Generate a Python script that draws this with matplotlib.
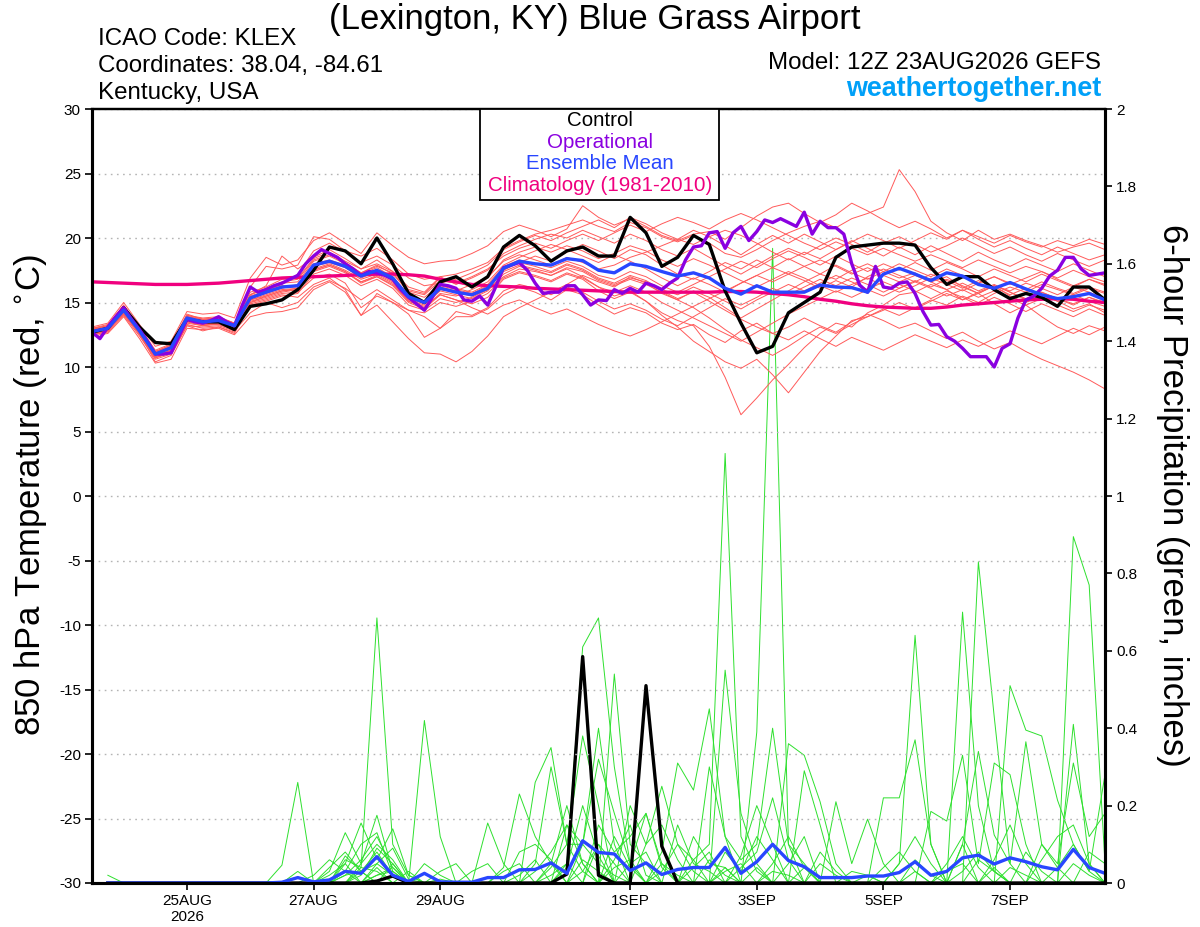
import numpy as np
import pandas as pd
import matplotlib
matplotlib.use('Agg')
import matplotlib.pyplot as plt
from matplotlib.patches import Rectangle
from matplotlib.ticker import FormatStrFormatter

plt.rcParams['font.family'] = ['Liberation Sans', 'DejaVu Sans']
plt.rcParams['axes.unicode_minus'] = False

# --- time axes (6-hourly ensemble, 3-hourly operational run) ---
times = pd.date_range('2026-08-23 12:00', '2026-09-08 12:00', freq='6h')
times_op = pd.date_range('2026-08-23 12:00', '2026-09-08 12:00', freq='3h')
times_pr = times[1:]

tick_dates = pd.to_datetime(['2026-08-25', '2026-08-27', '2026-08-29', '2026-09-01',
                             '2026-09-03', '2026-09-05', '2026-09-07'])
tick_labels = ['25AUG\n2026', '27AUG', '29AUG', '1SEP', '3SEP', '5SEP', '7SEP']

# --- 850 hPa temperature (deg C) ---
control_temp = [12.7, 13.0, 14.6, 13.1, 11.9, 11.8, 13.7, 13.5, 13.5, 12.9,
                14.7, 14.9, 15.2, 16.0, 17.5, 19.3, 19.0, 18.0, 20.0, 18.0,
                15.7, 15.0, 16.6, 17.0, 16.2, 17.0, 19.3, 20.2, 19.4, 18.2,
                19.0, 19.3, 18.6, 18.6, 21.6, 20.4, 17.8, 18.5, 20.2, 19.5,
                15.9, 13.4, 11.1, 11.6, 14.2, 15.0, 15.8, 18.5, 19.3, 19.45,
                19.6, 19.6, 19.45, 17.7, 16.4, 17.0, 17.0, 16.0, 15.3, 15.7,
                15.4, 14.7, 16.2, 16.2, 15.2]

mean_temp = [12.75, 13.0, 14.4, 12.8, 11.0, 11.5, 13.8, 13.5, 13.6, 13.2,
             15.35, 15.8, 16.2, 16.3, 17.9, 18.2, 17.8, 17.05, 17.5, 16.9,
             15.45, 15.0, 16.1, 15.8, 15.6, 16.1, 17.65, 18.2, 18.0, 17.9,
             18.4, 18.25, 17.5, 17.3, 18.0, 17.8, 17.4, 17.05, 17.3, 16.9,
             16.1, 15.65, 16.3, 15.8, 15.8, 15.8, 16.35, 16.2, 16.15, 15.8,
             17.2, 17.65, 17.2, 16.7, 17.3, 17.05, 16.4, 16.1, 16.55, 16.05,
             15.6, 15.3, 15.45, 15.7, 15.2]

clim_temp = [16.6, 16.55, 16.5, 16.45, 16.4, 16.4, 16.4, 16.45, 16.5, 16.6,
             16.7, 16.8, 16.9, 16.95, 17.0, 17.05, 17.1, 17.15, 17.2, 17.2,
             17.15, 17.05, 16.8, 16.6, 16.4, 16.3, 16.25, 16.2, 16.1, 16.05,
             16.0, 15.95, 15.9, 15.85, 15.8, 15.8, 15.8, 15.8, 15.8, 15.8,
             15.85, 15.85, 15.8, 15.7, 15.6, 15.45, 15.25, 15.1, 14.9, 14.75,
             14.65, 14.6, 14.55, 14.55, 14.65, 14.8, 14.9, 15.0, 15.1, 15.2,
             15.25, 15.3, 15.25, 15.1, 15.0]

oper_temp = [12.7, 12.2, 13.1, 13.9, 14.6, 13.7, 12.9, 12.0, 11.0, 11.0,
             11.1, 12.4, 13.7, 13.5, 13.4, 13.6, 13.9, 13.5, 13.2, 14.8,
             16.2, 15.8, 16.0, 16.3, 16.5, 16.8, 17.1, 18.0, 18.6, 19.1,
             18.8, 18.5, 18.0, 17.6, 17.1, 17.4, 17.3, 17.1, 16.8, 16.0,
             15.4, 14.9, 14.4, 15.4, 16.4, 16.3, 16.1, 15.2, 15.1, 15.5,
             14.8, 16.2, 17.7, 17.9, 18.1, 17.5, 16.5, 15.7, 15.8, 15.8,
             16.3, 16.3, 15.6, 14.8, 15.2, 15.15, 16.0, 15.7, 16.1, 15.8,
             16.5, 16.3, 16.0, 16.5, 16.9, 18.3, 19.3, 19.4, 20.4, 20.5,
             19.2, 20.4, 20.9, 19.8, 20.5, 21.4, 21.2, 21.5, 21.2, 20.9,
             22.0, 20.3, 21.3, 20.8, 20.8, 20.3, 18.0, 16.35, 15.8, 17.8,
             16.2, 16.1, 16.5, 16.6, 15.7, 14.3, 13.25, 13.3, 12.35, 12.0,
             11.45, 10.8, 10.8, 10.8, 10.0, 11.45, 11.8, 13.8, 15.2, 15.5,
             16.1, 17.05, 17.5, 18.5, 18.5, 17.6, 17.1, 17.2, 17.3]

temp_m01 = [12.9, 13.2, 14.8, 13.0, 11.2, 11.6, 14.0, 13.8, 13.9, 13.4, 15.8, 16.2, 16.8,
            16.9, 18.4, 18.9, 18.2, 17.6, 18.3, 17.4, 16.2, 15.8, 17.0, 17.2, 17.6, 18.1,
            19.2, 19.8, 20.3, 20.6, 21.0, 21.4, 20.9, 20.5, 21.2, 20.8, 20.1, 19.7, 20.2,
            19.6, 18.8, 18.5, 19.1, 19.8, 20.4, 20.9, 21.3, 20.8, 21.5, 21.9, 22.4, 25.3,
            23.6, 21.3, 20.4, 19.8, 20.6, 19.9, 20.3, 19.8, 19.4, 18.9, 19.3, 19.6, 19.1]
temp_m02 = [12.6, 12.8, 14.2, 12.5, 10.7, 11.2, 13.5, 13.2, 13.4, 12.9, 15.0, 15.5, 15.9,
            16.0, 17.5, 17.9, 17.4, 16.5, 17.0, 16.3, 15.0, 14.5, 15.6, 15.2, 14.9, 15.4,
            16.8, 17.3, 17.0, 16.6, 17.2, 16.8, 15.9, 15.3, 15.8, 15.1, 14.2, 13.6, 13.2,
            11.6, 9.2, 6.3, 7.6, 9.0, 10.2, 11.5, 12.6, 13.4, 13.1, 14.2, 14.8, 15.6,
            15.8, 16.4, 16.0, 15.2, 15.7, 14.9, 14.2, 14.8, 13.9, 13.1, 12.6, 13.2, 12.8]
temp_m03 = [12.4, 12.6, 13.9, 12.2, 10.3, 10.6, 13.0, 12.9, 13.0, 12.5, 13.9, 14.2, 14.3,
            14.6, 16.0, 16.6, 15.8, 14.0, 15.7, 15.0, 14.1, 12.3, 13.0, 13.9, 13.9, 14.5,
            15.6, 16.2, 15.8, 15.2, 16.0, 15.6, 14.8, 14.1, 14.6, 14.2, 13.4, 12.9, 13.3,
            12.5, 11.9, 12.8, 13.4, 12.6, 13.1, 13.8, 13.2, 12.7, 13.5, 14.1, 13.6, 13.0,
            13.4, 12.8, 12.2, 12.7, 12.0, 11.4, 11.9, 11.2, 10.6, 10.1, 9.6, 9.0, 8.3]
temp_m04 = [12.7, 12.9, 14.1, 12.6, 10.8, 11.1, 13.3, 13.0, 13.1, 12.6, 14.9, 15.2, 15.6,
            15.4, 16.4, 16.9, 16.0, 14.0, 14.8, 13.5, 12.2, 11.1, 11.0, 10.4, 11.2, 12.4,
            13.9, 14.6, 15.2, 15.8, 16.4, 17.1, 16.6, 16.2, 17.0, 16.5, 15.7, 15.2, 15.9,
            15.4, 14.6, 13.8, 14.5, 15.2, 15.9, 16.6, 17.2, 16.8, 17.5, 18.0, 17.4, 16.9,
            17.3, 16.6, 17.0, 16.2, 15.7, 16.3, 15.5, 15.0, 15.6, 15.1, 14.5, 14.9, 14.2]
temp_m05 = [13.1, 13.4, 15.0, 13.3, 11.6, 12.0, 14.3, 14.1, 14.2, 13.8, 16.9, 18.5, 17.9,
            18.3, 19.8, 20.4, 19.6, 18.8, 20.4, 19.4, 18.5, 18.0, 18.2, 18.3, 18.8, 19.4,
            20.5, 21.0, 20.6, 20.1, 20.7, 22.5, 21.6, 21.0, 21.5, 20.9, 20.2, 19.8, 20.3,
            20.5, 19.9, 20.8, 21.7, 22.4, 22.7, 21.9, 21.2, 21.8, 22.7, 22.1, 21.4, 20.8,
            21.3, 20.7, 20.0, 20.6, 19.9, 19.3, 19.8, 19.2, 18.7, 19.3, 18.8, 18.3, 18.7]
temp_m06 = [12.5, 12.7, 14.0, 12.4, 10.6, 11.0, 13.2, 12.8, 13.1, 12.7, 14.8, 15.1, 15.5,
            15.7, 17.2, 17.6, 17.1, 16.3, 16.8, 16.1, 14.8, 14.4, 15.3, 15.0, 15.4, 16.0,
            17.0, 17.6, 17.4, 17.1, 17.7, 17.4, 16.7, 16.3, 16.8, 16.4, 15.8, 15.2, 14.6,
            13.8, 12.9, 12.1, 11.5, 10.9, 11.6, 12.4, 13.1, 12.6, 13.3, 13.9, 14.5, 14.0,
            14.6, 15.2, 14.8, 15.5, 15.0, 15.7, 16.2, 15.8, 16.4, 16.0, 15.6, 16.1, 15.7]
temp_m07 = [13.0, 13.3, 14.7, 13.1, 11.3, 11.8, 14.1, 13.7, 13.8, 13.3, 16.2, 17.8, 17.6,
            17.9, 20.1, 19.9, 19.0, 18.6, 19.2, 18.3, 17.2, 16.8, 17.0, 16.4, 16.9, 17.5,
            18.8, 19.4, 19.9, 20.3, 20.0, 20.6, 20.1, 19.6, 20.3, 19.8, 19.1, 18.6, 19.2,
            18.5, 17.8, 17.2, 17.9, 18.6, 19.2, 18.7, 19.4, 20.0, 19.5, 18.9, 19.6, 20.1,
            19.5, 18.9, 19.4, 20.0, 19.4, 18.8, 19.3, 18.7, 18.2, 18.8, 18.3, 17.8, 18.3]
temp_m08 = [12.8, 13.0, 14.3, 12.7, 10.9, 11.3, 13.6, 13.4, 13.5, 13.1, 15.2, 15.6, 16.0,
            16.1, 17.6, 18.0, 17.5, 16.8, 17.2, 16.6, 15.2, 14.8, 15.9, 15.6, 15.3, 15.9,
            17.2, 17.8, 17.5, 17.1, 17.6, 17.0, 16.2, 15.5, 15.9, 15.1, 14.0, 13.1, 12.0,
            11.2, 10.4, 9.9, 10.6, 9.4, 8.0, 9.6, 11.2, 12.4, 13.6, 13.9, 14.4, 15.0,
            14.5, 15.1, 15.7, 15.2, 15.8, 16.3, 15.9, 16.5, 16.1, 15.6, 16.2, 15.8, 15.3]
temp_m09 = [12.6, 12.9, 14.5, 12.9, 11.1, 11.4, 13.7, 13.3, 13.4, 13.0, 15.3, 15.7, 16.1,
            16.4, 18.0, 18.3, 17.9, 17.2, 17.7, 17.0, 15.6, 15.1, 16.3, 16.0, 15.7, 16.3,
            17.5, 18.1, 18.6, 18.2, 18.9, 19.5, 19.0, 18.4, 19.1, 18.7, 17.9, 17.2, 16.8,
            17.4, 18.1, 17.6, 18.3, 17.7, 18.4, 17.8, 17.2, 17.9, 17.3, 16.8, 17.4, 18.0,
            17.5, 17.0, 17.6, 17.1, 16.5, 17.0, 16.4, 16.9, 17.4, 16.8, 16.3, 16.8, 16.4]
temp_m10 = [12.9, 13.1, 14.6, 12.8, 11.0, 11.6, 13.9, 13.6, 13.7, 13.2, 15.5, 15.9, 16.4,
            17.2, 19.0, 19.6, 18.9, 18.1, 18.6, 17.9, 16.9, 16.3, 16.5, 16.8, 17.3, 17.9,
            19.1, 19.7, 20.2, 19.8, 20.4, 20.9, 21.4, 20.8, 21.6, 21.1, 20.4, 19.9, 20.6,
            20.1, 19.4, 18.7, 19.5, 20.2, 19.6, 20.3, 19.7, 19.1, 19.8, 19.2, 18.6, 19.3,
            18.7, 19.4, 18.8, 18.2, 18.9, 18.3, 17.8, 18.4, 17.9, 17.4, 18.0, 17.5, 17.0]
temp_m11 = [12.7, 13.0, 14.4, 12.9, 11.0, 11.4, 13.8, 13.5, 13.6, 13.1, 15.4, 15.8, 16.2,
            16.2, 17.8, 18.1, 17.7, 16.9, 17.4, 16.7, 15.3, 14.9, 16.0, 15.8, 15.5, 16.0,
            17.4, 17.9, 17.6, 17.3, 17.9, 17.5, 16.8, 16.4, 16.9, 16.6, 15.9, 15.3, 15.8,
            15.1, 14.4, 13.7, 13.1, 12.6, 12.1, 12.8, 12.2, 11.6, 12.3, 11.8, 11.3, 11.9,
            12.5, 12.0, 11.5, 12.1, 11.6, 12.2, 12.8, 12.3, 11.8, 12.4, 13.0, 12.5, 13.1]
temp_m12 = [12.8, 13.1, 14.5, 12.9, 11.1, 11.5, 13.8, 13.6, 13.7, 13.3, 15.4, 15.9, 16.3,
            16.3, 17.8, 18.2, 17.8, 17.0, 17.5, 16.9, 15.4, 15.0, 16.1, 15.9, 16.4, 17.0,
            18.2, 18.7, 18.3, 17.9, 18.5, 18.1, 17.6, 17.9, 18.5, 18.9, 19.4, 19.9, 19.5,
            20.1, 20.6, 20.2, 19.6, 18.9, 18.3, 18.9, 18.4, 19.1, 19.7, 20.3, 19.8, 19.2,
            19.8, 20.4, 19.9, 20.6, 20.1, 19.6, 20.2, 19.7, 19.3, 19.8, 19.4, 19.9, 19.5]
temp_m13 = [12.5, 12.8, 14.1, 12.6, 10.4, 10.9, 13.2, 13.1, 13.2, 12.8, 14.2, 15.0, 14.6,
            15.0, 16.2, 16.7, 16.1, 15.2, 16.0, 15.2, 14.4, 13.9, 13.0, 14.3, 14.0, 14.6,
            15.9, 16.4, 16.1, 15.6, 16.2, 15.8, 15.1, 14.5, 14.9, 14.4, 13.7, 13.2, 13.9,
            14.6, 15.3, 14.8, 15.4, 16.1, 15.6, 16.2, 16.8, 16.3, 16.9, 16.4, 15.8, 16.4,
            15.9, 15.3, 15.9, 15.4, 14.8, 15.4, 14.9, 14.3, 14.9, 14.4, 13.9, 14.5, 14.0]
temp_m14 = [12.6, 12.9, 14.2, 12.6, 10.8, 11.2, 13.5, 13.3, 13.3, 12.9, 15.1, 15.4, 15.8,
            16.0, 17.4, 17.8, 17.3, 16.6, 17.0, 16.4, 15.1, 14.6, 15.7, 15.5, 16.0, 16.6,
            17.9, 18.5, 19.0, 19.5, 19.1, 18.6, 18.1, 18.7, 18.2, 17.6, 16.9, 16.3, 16.9,
            16.4, 15.8, 16.5, 17.1, 16.6, 17.2, 16.7, 16.1, 16.7, 16.2, 17.0, 17.6, 17.1,
            16.6, 17.2, 16.7, 16.1, 16.7, 16.2, 15.6, 16.1, 15.6, 15.1, 15.6, 15.1, 14.7]
temp_m15 = [13.0, 13.2, 14.6, 13.0, 11.2, 11.7, 13.9, 13.7, 13.8, 13.4, 15.6, 16.1, 16.6,
            16.8, 18.3, 18.7, 18.1, 17.3, 17.8, 17.3, 15.8, 15.4, 16.4, 16.1, 15.8, 16.4,
            17.8, 18.3, 18.0, 17.7, 18.2, 17.8, 17.1, 16.8, 17.4, 17.0, 16.3, 15.8, 16.4,
            17.0, 17.6, 18.2, 17.7, 18.4, 19.0, 18.5, 17.9, 18.6, 18.0, 17.4, 18.0, 17.5,
            18.1, 17.5, 18.1, 17.6, 17.0, 17.6, 17.1, 16.6, 17.2, 16.7, 16.2, 16.8, 16.3]
temp_m16 = [12.7, 12.9, 14.3, 12.7, 10.9, 11.3, 13.6, 13.3, 13.5, 13.0, 15.2, 15.5, 15.9,
            16.1, 17.5, 17.9, 17.4, 16.6, 17.1, 16.5, 15.1, 14.7, 15.6, 15.2, 14.6, 14.1,
            14.8, 15.2, 14.6, 14.1, 14.5, 13.9, 13.3, 12.8, 12.4, 12.9, 13.5, 14.1, 14.7,
            15.3, 15.9, 16.5, 17.1, 17.7, 17.2, 17.8, 18.3, 17.8, 17.2, 17.7, 17.1, 16.6,
            17.1, 16.6, 16.0, 16.5, 15.9, 16.4, 15.8, 15.3, 15.8, 15.3, 14.9, 15.4, 15.0]
temp_m17 = [12.8, 13.1, 14.6, 12.9, 11.1, 11.6, 13.9, 13.6, 13.7, 13.3, 15.6, 16.3, 18.6,
            17.6, 18.5, 19.1, 18.4, 17.6, 18.0, 17.4, 16.0, 15.7, 16.9, 16.6, 16.2, 16.9,
            18.3, 18.9, 19.3, 18.9, 19.4, 19.0, 18.4, 18.8, 19.4, 19.0, 18.3, 17.8, 18.4,
            17.9, 17.3, 16.7, 16.2, 16.8, 17.4, 16.9, 16.3, 15.8, 16.4, 16.9, 16.3, 15.8,
            16.3, 16.9, 16.4, 15.9, 16.5, 17.0, 16.5, 16.0, 16.6, 16.1, 15.7, 16.2, 15.8]
temp_m18 = [12.6, 12.8, 14.2, 12.6, 10.7, 11.1, 13.4, 13.2, 13.3, 12.9, 15.0, 15.3, 15.7,
            15.8, 16.9, 17.2, 16.5, 14.6, 15.5, 15.0, 14.4, 14.2, 15.0, 14.7, 15.1, 15.7,
            16.9, 17.4, 17.1, 16.7, 17.3, 16.9, 16.2, 15.8, 16.3, 15.8, 15.0, 14.4, 13.8,
            13.2, 12.6, 12.0, 12.7, 13.4, 14.1, 14.7, 15.3, 15.9, 15.4, 16.0, 15.5, 16.1,
            16.7, 16.2, 16.8, 16.3, 15.7, 16.3, 15.8, 15.2, 15.8, 15.3, 14.8, 15.4, 14.9]
temp_m19 = [12.9, 13.2, 14.7, 13.1, 11.2, 11.7, 14.0, 13.7, 13.8, 13.4, 15.6, 16.1, 16.5,
            16.6, 18.2, 18.6, 18.0, 17.3, 17.9, 17.2, 15.9, 15.6, 16.7, 16.5, 17.0, 17.6,
            18.6, 19.2, 19.6, 19.2, 19.8, 20.3, 19.8, 20.4, 21.0, 20.5, 21.1, 21.6, 21.2,
            20.7, 21.4, 21.9, 21.4, 20.8, 20.2, 19.6, 19.1, 19.7, 19.2, 18.7, 19.2, 18.7,
            18.2, 18.7, 18.2, 17.7, 18.3, 17.8, 17.3, 17.8, 17.4, 16.9, 17.5, 17.0, 16.6]
temp_m20 = [12.7, 13.0, 14.4, 12.8, 11.0, 11.5, 13.7, 13.5, 13.6, 13.2, 15.3, 15.8, 16.2,
            16.3, 17.9, 18.2, 17.8, 17.0, 17.5, 16.9, 15.5, 15.0, 16.2, 15.9, 15.6, 16.2,
            17.6, 18.1, 17.8, 17.4, 18.0, 17.6, 16.9, 16.5, 17.1, 16.7, 16.0, 15.6, 16.2,
            15.7, 15.1, 14.5, 15.2, 15.8, 16.4, 15.9, 16.5, 17.1, 16.6, 16.0, 16.6, 16.1,
            16.6, 16.1, 15.5, 16.0, 15.4, 15.9, 15.3, 14.8, 15.3, 14.8, 14.3, 14.8, 14.4]

# --- 6-hour precipitation (inches), valid at the end of each 6h period ---
control_precip = [0, 0, 0, 0, 0, 0, 0, 0,
                  0, 0, 0, 0, 0, 0, 0, 0,
                  0, 0.005, 0.018, 0, 0, 0, 0, 0,
                  0, 0, 0, 0, 0, 0.023, 0.585, 0.02,
                  0, 0, 0.51, 0.095, 0, 0, 0, 0,
                  0, 0, 0, 0, 0, 0, 0, 0,
                  0, 0, 0, 0, 0, 0, 0, 0,
                  0, 0, 0, 0, 0, 0, 0, 0]
mean_precip = [0, 0, 0, 0, 0, 0, 0, 0,
               0, 0, 0, 0.002, 0.014, 0.003, 0.008, 0.03,
               0.025, 0.068, 0.02, 0.004, 0.025, 0.003, 0.002, 0.002,
               0.014, 0.014, 0.034, 0.035, 0.052, 0.025, 0.109, 0.079,
               0.075, 0.032, 0.052, 0.022, 0.035, 0.04, 0.04, 0.092,
               0.025, 0.055, 0.10, 0.058, 0.042, 0.014, 0.014, 0.014,
               0.018, 0.018, 0.027, 0.055, 0.02, 0.03, 0.065, 0.072,
               0.049, 0.065, 0.055, 0.042, 0.034, 0.087, 0.04, 0.025]

precip_m01 = [0.02, 0, 0, 0, 0, 0, 0, 0,
              0, 0, 0, 0, 0.03, 0, 0, 0.06,
              0.04, 0.685, 0.10, 0.02, 0, 0, 0, 0,
              0, 0, 0, 0, 0, 0.05, 0.61, 0.685,
              0.3, 0.05, 0, 0, 0, 0, 0, 0.04,
              0, 0.39, 1.64, 0.1, 0.05, 0, 0, 0,
              0, 0, 0, 0.03, 0, 0, 0.1, 0,
              0, 0, 0, 0, 0, 0.895, 0.77, 0.05]
precip_m02 = [0, 0, 0, 0, 0, 0, 0, 0,
              0, 0, 0, 0.046, 0.26, 0, 0, 0,
              0.02, 0.09, 0.05, 0, 0, 0, 0, 0,
              0, 0, 0, 0.05, 0.3, 0.1, 0.1, 0.4,
              0.1, 0, 0, 0, 0, 0.06, 0.1, 1.11,
              0.12, 0.03, 0, 0, 0, 0, 0, 0,
              0, 0, 0.05, 0.64, 0.1, 0, 0, 0.06,
              0.03, 0, 0, 0, 0, 0, 0, 0]
precip_m03 = [0, 0, 0, 0, 0, 0, 0, 0,
              0, 0, 0, 0, 0, 0, 0.03, 0.13,
              0.05, 0.175, 0.03, 0, 0.42, 0.12, 0, 0,
              0, 0.04, 0.23, 0.12, 0.05, 0, 0, 0,
              0.54, 0.1, 0.05, 0, 0, 0, 0, 0.55,
              0.18, 0.05, 0, 0, 0, 0, 0, 0,
              0, 0, 0, 0, 0, 0, 0.70, 0.2,
              0.03, 0, 0, 0, 0, 0, 0, 0]
precip_m04 = [0, 0, 0, 0, 0, 0, 0, 0,
              0, 0, 0, 0, 0, 0, 0, 0.05,
              0.155, 0.06, 0.14, 0.02, 0, 0, 0, 0,
              0.155, 0.05, 0, 0.26, 0.35, 0.1, 0.38, 0.2,
              0, 0, 0, 0.08, 0.31, 0.24, 0.45, 0.12,
              0, 0, 0, 0.36, 0.33, 0.21, 0.05, 0,
              0, 0, 0, 0, 0, 0, 0, 0.83,
              0.43, 0.05, 0, 0, 0, 0, 0, 0]
precip_m05 = [0, 0, 0, 0, 0, 0, 0, 0,
              0, 0, 0, 0, 0, 0.02, 0.06, 0.03,
              0.1, 0.13, 0.02, 0, 0, 0.03, 0.05, 0,
              0, 0, 0.08, 0.1, 0.06, 0, 0.1, 0.32,
              0.18, 0.05, 0.18, 0.04, 0, 0, 0.30, 0.12,
              0.06, 0.1, 0.40, 0.1, 0, 0, 0, 0,
              0, 0.22, 0.22, 0.37, 0.1, 0, 0, 0,
              0, 0.51, 0.395, 0.38, 0.214, 0.1, 0.03, 0.28]
precip_m06 = [0, 0, 0, 0, 0, 0, 0, 0,
              0, 0, 0, 0, 0, 0, 0.04, 0.08,
              0.03, 0.05, 0.09, 0.01, 0, 0, 0, 0,
              0, 0, 0, 0, 0.05, 0.2, 0.05, 0,
              0, 0.2, 0.1, 0.25, 0.1, 0.06, 0, 0,
              0.07, 0.2, 0.1, 0, 0.29, 0.15, 0, 0,
              0, 0, 0, 0, 0.185, 0.16, 0.33, 0.05,
              0.31, 0.28, 0.1, 0, 0, 0.41, 0.05, 0]
precip_m07 = [0, 0, 0, 0, 0, 0, 0, 0,
              0, 0, 0, 0, 0, 0, 0, 0.02,
              0.06, 0.12, 0.04, 0, 0, 0, 0, 0,
              0, 0, 0, 0, 0, 0.15, 0.1, 0.05,
              0.02, 0, 0, 0, 0.15, 0.05, 0.03, 0,
              0, 0, 0, 0.05, 0.12, 0, 0.21, 0.05,
              0.165, 0.05, 0, 0, 0, 0, 0.1, 0.34,
              0.124, 0.05, 0.365, 0.1, 0.05, 0.31, 0.12, 0.18]
precip_m08 = [0, 0, 0, 0, 0, 0, 0, 0,
              0, 0, 0, 0, 0, 0, 0, 0,
              0.03, 0.08, 0.02, 0, 0.05, 0.02, 0, 0,
              0, 0.03, 0.05, 0, 0, 0, 0, 0.15,
              0.08, 0.12, 0.18, 0.05, 0, 0, 0, 0.08,
              0.03, 0.12, 0.06, 0, 0, 0, 0, 0,
              0, 0, 0.05, 0.12, 0.05, 0, 0, 0,
              0, 0, 0, 0.06, 0.12, 0.15, 0.05, 0]
precip_m09 = [0, 0, 0, 0, 0, 0, 0, 0,
              0, 0, 0, 0, 0, 0, 0, 0.03,
              0, 0.04, 0, 0.03, 0, 0, 0, 0.03,
              0.05, 0, 0, 0.03, 0.08, 0.15, 0.05, 0,
              0.06, 0.15, 0.02, 0, 0, 0.12, 0.05, 0.04,
              0, 0, 0, 0, 0, 0.08, 0.03, 0,
              0, 0, 0, 0, 0, 0.05, 0.12, 0.04,
              0, 0, 0.08, 0.03, 0, 0, 0, 0]
precip_m10 = [0, 0, 0, 0, 0, 0, 0, 0,
              0, 0, 0, 0, 0, 0, 0, 0,
              0.05, 0.1, 0.06, 0, 0, 0.01, 0, 0,
              0, 0, 0, 0, 0, 0.04, 0.2, 0.07,
              0, 0, 0.1, 0.15, 0.06, 0, 0, 0,
              0.04, 0.08, 0.22, 0.06, 0, 0, 0, 0.03,
              0.02, 0, 0, 0, 0, 0, 0, 0,
              0.06, 0.15, 0.05, 0, 0, 0, 0.08, 0.05]
precip_m11 = [0, 0, 0, 0, 0, 0, 0, 0,
              0, 0, 0, 0, 0, 0, 0.02, 0.05,
              0, 0.02, 0.03, 0, 0, 0, 0, 0,
              0, 0, 0.02, 0.06, 0, 0, 0, 0.1,
              0.05, 0, 0, 0.03, 0.1, 0.03, 0, 0,
              0, 0, 0.05, 0.12, 0.04, 0, 0, 0,
              0, 0, 0, 0.06, 0.02, 0, 0, 0,
              0, 0, 0, 0, 0.04, 0.1, 0.03, 0]
precip_m12 = [0, 0, 0, 0, 0, 0, 0, 0,
              0, 0, 0, 0, 0, 0, 0, 0.07,
              0.03, 0, 0.05, 0, 0, 0, 0, 0,
              0, 0, 0, 0, 0, 0, 0.03, 0.1,
              0, 0.05, 0.08, 0, 0, 0, 0.06, 0.02,
              0, 0, 0, 0, 0, 0.05, 0.02, 0,
              0, 0, 0, 0, 0, 0, 0.03, 0.08,
              0.03, 0, 0, 0.1, 0.04, 0, 0, 0]
precip_m13 = [0, 0, 0, 0, 0, 0, 0, 0,
              0, 0, 0, 0, 0, 0, 0, 0,
              0.04, 0.03, 0, 0, 0, 0, 0, 0,
              0, 0, 0, 0, 0.04, 0.1, 0.03, 0,
              0.12, 0.04, 0, 0, 0, 0.04, 0.08, 0,
              0, 0.04, 0, 0, 0, 0, 0, 0,
              0, 0.04, 0.08, 0.03, 0, 0, 0, 0,
              0, 0.04, 0.02, 0, 0, 0, 0, 0]
precip_m14 = [0, 0, 0, 0, 0, 0, 0, 0,
              0, 0, 0, 0, 0, 0, 0, 0,
              0, 0.05, 0.02, 0, 0, 0, 0, 0,
              0, 0, 0, 0, 0, 0, 0.06, 0.03,
              0, 0, 0, 0.05, 0.02, 0, 0, 0,
              0, 0, 0, 0, 0.04, 0, 0, 0,
              0, 0, 0, 0, 0, 0.03, 0.05, 0,
              0, 0, 0, 0, 0, 0, 0, 0]
precip_m15 = [0, 0, 0, 0, 0, 0, 0, 0,
              0, 0, 0, 0, 0, 0, 0, 0.02,
              0.03, 0, 0, 0, 0, 0, 0, 0,
              0, 0, 0, 0, 0, 0, 0, 0,
              0.04, 0.06, 0, 0, 0, 0, 0, 0.03,
              0.05, 0, 0, 0, 0, 0, 0, 0,
              0.02, 0, 0, 0, 0, 0, 0, 0,
              0, 0, 0, 0, 0, 0.05, 0.02, 0]
precip_m16 = [0, 0, 0, 0, 0, 0, 0, 0,
              0, 0, 0, 0, 0, 0, 0, 0,
              0, 0.02, 0.04, 0, 0, 0, 0, 0,
              0, 0, 0, 0, 0.02, 0.05, 0, 0,
              0, 0, 0, 0, 0, 0, 0, 0,
              0, 0, 0.03, 0.02, 0, 0, 0, 0,
              0, 0, 0, 0, 0, 0, 0, 0,
              0.04, 0, 0, 0, 0, 0, 0, 0]

temp_members = [temp_m01, temp_m02, temp_m03, temp_m04, temp_m05, temp_m06, temp_m07,
                temp_m08, temp_m09, temp_m10, temp_m11, temp_m12, temp_m13, temp_m14,
                temp_m15, temp_m16, temp_m17, temp_m18, temp_m19, temp_m20]
precip_members = [precip_m01, precip_m02, precip_m03, precip_m04, precip_m05, precip_m06,
                  precip_m07, precip_m08, precip_m09, precip_m10, precip_m11, precip_m12,
                  precip_m13, precip_m14, precip_m15, precip_m16]

# colours
RED = '#ff5a5a'
GREEN = '#2ee02e'
PURPLE = '#8a00e0'
BLUE = '#2846ff'
MAGENTA = '#f0007f'
SITE_BLUE = '#00a0f8'

W, H = 1200, 927
fig = plt.figure(figsize=(W / 100, H / 100), dpi=100)
ax = fig.add_axes([92 / W, 1 - 883 / H, 1013 / W, 774 / H])
ax2 = ax.twinx()
ax.set_zorder(ax2.get_zorder() + 1)
ax.patch.set_visible(False)

# precipitation (right axis)
for p in precip_members:
    ax2.plot(times_pr, p, color=GREEN, lw=0.7)
ax2.plot(times_pr, control_precip, color='black', lw=2.4)
ax2.plot(times_pr, mean_precip, color=BLUE, lw=2.4)
ax2.set_ylim(0, 2)
ax2.set_yticks(np.arange(0, 2.01, 0.2))
ax2.yaxis.set_major_formatter(FormatStrFormatter('%g'))

# temperature (left axis)
for t in temp_members:
    ax.plot(times, t, color=RED, lw=0.7)
ax.plot(times, clim_temp, color=MAGENTA, lw=2.4)
ax.plot(times, control_temp, color='black', lw=2.4)
ax.plot(times_op, oper_temp, color=PURPLE, lw=2.4)
ax.plot(times, mean_temp, color=BLUE, lw=2.4)

ax.set_ylim(-30, 30)
ax.set_yticks(range(-30, 31, 5))
ax.set_xlim(times[0], times[-1])
ax.set_xticks(tick_dates)
ax.set_xticklabels(tick_labels)
ax.yaxis.grid(True, color='#b4b4b4', linestyle=(0, (1.2, 3.2)), lw=1.0)
ax.set_axisbelow(True)

for a in (ax, ax2):
    for side in ('left', 'bottom', 'right'):
        a.spines[side].set_linewidth(2.2)
    a.spines['top'].set_linewidth(1.6)
ax.tick_params(axis='both', direction='out', length=5, width=1.2, labelsize=11, pad=3)
ax2.tick_params(axis='y', direction='out', length=5, width=1.2, labelsize=11, pad=3)

# legend box
ax.add_patch(Rectangle((0.383, 0.883), 0.236, 0.117, transform=ax.transAxes,
                       facecolor='white', edgecolor='black', lw=1.3, zorder=10))
legend_items = [('Control', 'black'), ('Operational', PURPLE),
                ('Ensemble Mean', BLUE), ('Climatology (1981-2010)', MAGENTA)]
for k, (lab, col) in enumerate(legend_items):
    ax.text(0.5015, 0.985 - k * 0.0278, lab, color=col, fontsize=14.8,
            ha='center', va='center', transform=ax.transAxes, zorder=11)

# titles and annotations
fig.text(595 / W, 1 - 20 / H, '(Lexington, KY) Blue Grass Airport',
         fontsize=25, ha='center', va='center')
for k, line in enumerate(['ICAO Code: KLEX', 'Coordinates: 38.04, -84.61', 'Kentucky, USA']):
    fig.text(98 / W, 1 - (39 + k * 27) / H, line, fontsize=17.4, ha='left', va='center')
fig.text(1101 / W, 1 - 63 / H, 'Model: 12Z 23AUG2026 GEFS', fontsize=17.4,
         ha='right', va='center')
fig.text(1101 / W, 1 - 89 / H, 'weathertogether.net', fontsize=19.4, fontweight='bold',
         color=SITE_BLUE, ha='right', va='center')

fig.text(31 / W, 1 - 495 / H, '850 hPa Temperature (red, $^{\\circ}$C)', fontsize=25,
         rotation=90, ha='center', va='center')
fig.text(1172 / W, 1 - 495 / H, '6-hour Precipitation (green, inches)', fontsize=25,
         rotation=270, ha='center', va='center')

fig.savefig('out.png', dpi=100)
